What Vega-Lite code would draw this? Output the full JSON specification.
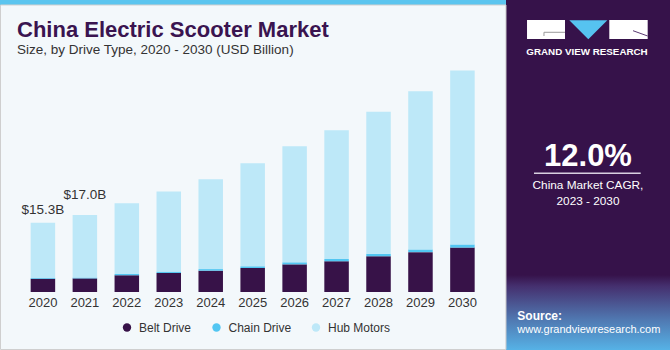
{
  "$schema": "https://vega.github.io/schema/vega-lite/v6.json",
  "width": 670,
  "height": 350,
  "padding": 0,
  "background": "#f3f8fb",
  "config": {"view": {"stroke": null}, "font": "Liberation Sans"},
  "title": {
    "text": "China Electric Scooter Market",
    "subtitle": "Size, by Drive Type, 2020 - 2030 (USD Billion)",
    "anchor": "start",
    "frame": "group",
    "orient": "top",
    "offset": -57,
    "dx": 17,
    "font": "Liberation Sans",
    "fontSize": 22,
    "fontWeight": "bold",
    "color": "#3a1450",
    "subtitleFont": "Liberation Sans",
    "subtitleFontSize": 13.5,
    "subtitleColor": "#333333",
    "subtitlePadding": 0.5
  },
  "resolve": {"scale": {"x": "independent"}},
  "layer": [
    {
      "data": {"values": [{"k": 1}]},
      "layer": [
        {
          "mark": {"type": "rect", "color": "#36124a"},
          "encoding": {
            "x": {"datum": 75.52, "type": "quantitative", "scale": {"domain": [0, 100], "nice": false}, "axis": null},
            "x2": {"datum": 100},
            "y": {"datum": -12.81, "type": "quantitative", "scale": {"domain": [-12.81, 64.47], "nice": false, "zero": false}, "axis": null},
            "y2": {"datum": 64.47}
          }
        },
        {
          "mark": {
            "type": "rect",
            "fill": {
              "x1": 0, "y1": 0, "x2": 0, "y2": 1,
              "gradient": "linear",
              "stops": [
                {"offset": 0, "color": "#36124a"},
                {"offset": 0.15, "color": "#45306f"},
                {"offset": 0.6, "color": "#5079b2"},
                {"offset": 1, "color": "#56b2e6"}
              ]
            }
          },
          "encoding": {
            "x": {"datum": 75.52, "type": "quantitative"},
            "x2": {"datum": 100},
            "y": {"datum": -12.81, "type": "quantitative"},
            "y2": {"datum": 3.75}
          }
        },
        {
          "mark": {"type": "rect", "color": "#5bc5ef"},
          "encoding": {
            "x": {"datum": 0, "type": "quantitative"},
            "x2": {"datum": 75.52},
            "y": {"datum": 63.37, "type": "quantitative"},
            "y2": {"datum": 64.47}
          }
        },
        {
          "mark": {"type": "rect", "fill": null, "fillOpacity": 0, "stroke": "#cfcfcf", "strokeWidth": 1},
          "encoding": {
            "x": {"datum": 0.075, "type": "quantitative"},
            "x2": {"datum": 75.52},
            "y": {"datum": -12.70, "type": "quantitative"},
            "y2": {"datum": 63.37}
          }
        },
        {
          "mark": {"type": "rect", "color": "#ffffff"},
          "encoding": {
            "x": {"datum": 78.66, "type": "quantitative"},
            "x2": {"datum": 84.33},
            "y": {"datum": 55.86, "type": "quantitative"},
            "y2": {"datum": 60.05}
          }
        },
        {
          "mark": {"type": "rect", "color": "#ffffff"},
          "encoding": {
            "x": {"datum": 90.94, "type": "quantitative"},
            "x2": {"datum": 96.67},
            "y": {"datum": 55.86, "type": "quantitative"},
            "y2": {"datum": 60.05}
          }
        },
        {
          "mark": {"type": "rule", "color": "#9a9a9a", "strokeWidth": 1},
          "encoding": {
            "x": {"datum": 81.19, "type": "quantitative"},
            "x2": {"datum": 84.33},
            "y": {"datum": 57.34, "type": "quantitative"},
            "y2": {"datum": 57.34}
          }
        },
        {
          "mark": {"type": "rule", "color": "#9a9a9a", "strokeWidth": 1},
          "encoding": {
            "x": {"datum": 81.19, "type": "quantitative"},
            "x2": {"datum": 81.19},
            "y": {"datum": 56.52, "type": "quantitative"},
            "y2": {"datum": 57.34}
          }
        },
        {
          "mark": {"type": "rule", "color": "#5a3a72", "strokeWidth": 1},
          "encoding": {
            "x": {"datum": 94.48, "type": "quantitative"},
            "x2": {"datum": 96.67},
            "y": {"datum": 57.69, "type": "quantitative"},
            "y2": {"datum": 56.52}
          }
        },
        {
          "mark": {"type": "point", "filled": true, "shape": "M-1,-0.5L1,-0.5L0,0.5Z", "size": 1444, "color": "#56c3f0", "opacity": 1},
          "encoding": {
            "x": {"datum": 87.81, "type": "quantitative"},
            "y": {"datum": 57.90, "type": "quantitative"}
          }
        },
        {
          "mark": {"type": "text", "text": "GRAND VIEW RESEARCH", "fontSize": 9.8, "fontWeight": "bold", "color": "#ffffff", "align": "center", "baseline": "middle"},
          "encoding": {
            "x": {"datum": 87.61, "type": "quantitative"},
            "y": {"datum": 53.05, "type": "quantitative"}
          }
        },
        {
          "mark": {"type": "text", "text": "12.0%", "fontSize": 31, "fontWeight": "bold", "color": "#ffffff", "align": "center", "baseline": "middle"},
          "encoding": {
            "x": {"datum": 87.76, "type": "quantitative"},
            "y": {"datum": 29.8, "type": "quantitative"}
          }
        },
        {
          "mark": {"type": "rule", "color": "#d8d0e0", "strokeWidth": 1.5},
          "encoding": {
            "x": {"datum": 79.70, "type": "quantitative"},
            "x2": {"datum": 95.63},
            "y": {"datum": 26.20, "type": "quantitative"},
            "y2": {"datum": 26.20}
          }
        },
        {
          "mark": {"type": "text", "text": "China Market CAGR,", "fontSize": 11.8, "color": "#ffffff", "align": "center", "baseline": "middle"},
          "encoding": {
            "x": {"datum": 87.76, "type": "quantitative"},
            "y": {"datum": 23.62, "type": "quantitative"}
          }
        },
        {
          "mark": {"type": "text", "text": "2023 - 2030", "fontSize": 11.8, "color": "#ffffff", "align": "center", "baseline": "middle"},
          "encoding": {
            "x": {"datum": 87.76, "type": "quantitative"},
            "y": {"datum": 20.09, "type": "quantitative"}
          }
        },
        {
          "mark": {"type": "text", "text": "Source:", "fontSize": 12, "fontWeight": "bold", "color": "#ffffff", "align": "left", "baseline": "middle"},
          "encoding": {
            "x": {"datum": 77.21, "type": "quantitative"},
            "y": {"datum": -5.24, "type": "quantitative"}
          }
        },
        {
          "mark": {"type": "text", "text": "www.grandviewresearch.com", "fontSize": 11, "color": "#ffffff", "align": "left", "baseline": "middle"},
          "encoding": {
            "x": {"datum": 77.21, "type": "quantitative"},
            "y": {"datum": -8.39, "type": "quantitative"}
          }
        }
      ]
    },
    {
      "layer": [
        {
          "data": {
            "values": [
              {"year": "2020", "type": "Belt Drive", "value": 2.9},
              {"year": "2020", "type": "Chain Drive", "value": 0.2},
              {"year": "2020", "type": "Hub Motors", "value": 12.2},
              {"year": "2021", "type": "Belt Drive", "value": 3.0},
              {"year": "2021", "type": "Chain Drive", "value": 0.2},
              {"year": "2021", "type": "Hub Motors", "value": 13.8},
              {"year": "2022", "type": "Belt Drive", "value": 3.7},
              {"year": "2022", "type": "Chain Drive", "value": 0.25},
              {"year": "2022", "type": "Hub Motors", "value": 15.65},
              {"year": "2023", "type": "Belt Drive", "value": 4.2},
              {"year": "2023", "type": "Chain Drive", "value": 0.3},
              {"year": "2023", "type": "Hub Motors", "value": 17.7},
              {"year": "2024", "type": "Belt Drive", "value": 4.7},
              {"year": "2024", "type": "Chain Drive", "value": 0.35},
              {"year": "2024", "type": "Hub Motors", "value": 19.85},
              {"year": "2025", "type": "Belt Drive", "value": 5.3},
              {"year": "2025", "type": "Chain Drive", "value": 0.4},
              {"year": "2025", "type": "Hub Motors", "value": 22.7},
              {"year": "2026", "type": "Belt Drive", "value": 6.1},
              {"year": "2026", "type": "Chain Drive", "value": 0.45},
              {"year": "2026", "type": "Hub Motors", "value": 25.65},
              {"year": "2027", "type": "Belt Drive", "value": 6.8},
              {"year": "2027", "type": "Chain Drive", "value": 0.5},
              {"year": "2027", "type": "Hub Motors", "value": 28.4},
              {"year": "2028", "type": "Belt Drive", "value": 7.9},
              {"year": "2028", "type": "Chain Drive", "value": 0.55},
              {"year": "2028", "type": "Hub Motors", "value": 31.35},
              {"year": "2029", "type": "Belt Drive", "value": 8.8},
              {"year": "2029", "type": "Chain Drive", "value": 0.6},
              {"year": "2029", "type": "Hub Motors", "value": 34.9},
              {"year": "2030", "type": "Belt Drive", "value": 9.8},
              {"year": "2030", "type": "Chain Drive", "value": 0.7},
              {"year": "2030", "type": "Hub Motors", "value": 38.4}
            ]
          },
          "mark": {"type": "bar"},
          "encoding": {
            "x": {
              "field": "year",
              "type": "ordinal",
              "scale": {
                "domain": ["2020", "2021", "2022", "2023", "2024", "2025", "2026", "2027", "2028", "2029", "2030", "_a", "_b", "_c", "_d"],
                "paddingInner": 0.416,
                "paddingOuter": 0.6935,
                "align": 0.527
              },
              "axis": {
                "orient": "bottom",
                "offset": -58,
                "values": ["2020", "2021", "2022", "2023", "2024", "2025", "2026", "2027", "2028", "2029", "2030"],
                "title": null,
                "ticks": false,
                "domain": false,
                "labelAngle": 0,
                "labelPadding": 4,
                "labelFontSize": 13,
                "labelColor": "#333333",
                "labelFont": "Liberation Sans"
              }
            },
            "y": {
              "field": "value",
              "type": "quantitative",
              "stack": "zero",
              "scale": {"domain": [-12.81, 64.47], "nice": false, "zero": false},
              "axis": null
            },
            "order": {"field": "type", "sort": "ascending"},
            "color": {
              "field": "type",
              "type": "nominal",
              "scale": {
                "domain": ["Belt Drive", "Chain Drive", "Hub Motors"],
                "range": ["#371248", "#52c6f2", "#bde8f8"]
              },
              "legend": {
                "orient": "none",
                "legendX": 121,
                "legendY": 321.5,
                "direction": "horizontal",
                "title": null,
                "symbolType": "circle",
                "symbolSize": 70,
                "symbolStrokeWidth": 0,
                "labelFontSize": 12,
                "labelColor": "#333333",
                "labelFont": "Liberation Sans",
                "labelOffset": 6,
                "columnPadding": 18.5
              }
            }
          }
        },
        {
          "data": {"values": [{"year": "2020", "total": 15.3, "label": "$15.3B"}]},
          "mark": {"type": "text", "baseline": "bottom", "dy": -6, "fontSize": 13.5, "color": "#333333", "font": "Liberation Sans"},
          "encoding": {
            "x": {"field": "year", "type": "ordinal"},
            "y": {"field": "total", "type": "quantitative"},
            "text": {"field": "label"}
          }
        },
        {
          "data": {"values": [{"year": "2021", "total": 17.0, "label": "$17.0B"}]},
          "mark": {"type": "text", "baseline": "bottom", "dy": -13, "fontSize": 13.5, "color": "#333333", "font": "Liberation Sans"},
          "encoding": {
            "x": {"field": "year", "type": "ordinal"},
            "y": {"field": "total", "type": "quantitative"},
            "text": {"field": "label"}
          }
        }
      ]
    }
  ]
}
